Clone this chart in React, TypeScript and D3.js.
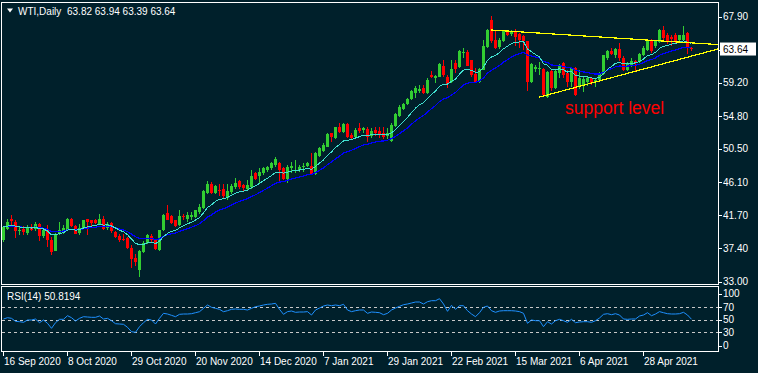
import { useEffect, useRef } from 'react'
import * as d3 from 'd3'

// WTI daily candles, one per bar
const opens = [
  38.42, 39.97, 41.2, 40.85, 39.74, 39.96, 39.39, 40.19, 39.97, 40.63,
  38.99, 39.96, 38.51, 37.01, 39.39, 39.48, 39.83, 41.29, 40.32, 39.39,
  40.1, 41.2, 41.07, 41.07, 40.63, 41.29, 40.05, 40.76, 39.52, 38.99,
  38.64, 38.73, 37.45, 36.13, 34.46, 36.88, 38.11, 38.95, 38.51, 37.1,
  39.74, 42.04, 41.6, 41.07, 40.41, 41.6, 41.29, 41.51, 41.51, 42.17,
  42.74, 44.68, 45.83, 44.72, 45.08, 45.16, 44.06, 44.81, 45.47, 46.27,
  45.69, 45.25, 45.47, 47.24, 46.88, 47.24, 47.68, 47.9, 48.34, 48.65,
  47.9, 46.57, 47.9, 47.59, 47.68, 48.03, 48.25, 48.2, 47.15, 49.53,
  50.23, 50.76, 52.52, 51.86, 53.32, 52.74, 53.76, 52.3, 52.08, 53.18,
  52.96, 53.09, 52.17, 52.96, 52.88, 52.61, 52.17, 51.55, 53.49, 54.81,
  55.69, 56.4, 57.02, 57.9, 58.16, 58.47, 57.81, 60.23, 59.79, 60.01,
  61.42, 60.01, 59.35, 61.86, 61.25, 63.1, 63.19, 62.13, 60.32, 59.35,
  60.89, 63.89, 67.5, 64.86, 63.89, 64.64, 65.96, 65.65, 65.96, 65.61,
  65.3, 64.64, 59.35, 61.03, 61.11, 61.03, 57.37, 60.76, 58.47, 60.45,
  61.78, 60.45, 59.35, 61.2, 58.69, 58.91, 59.35, 59.79, 59.35, 59.57,
  60.32, 62.44, 63.41, 62.88, 63.63, 62.52, 60.89, 61.55, 62.08, 61.91,
  62.88, 63.54, 64.86, 63.98, 64.55, 66.18, 65.43, 65.17, 65.43, 64.86,
  64.86, 65.74, 63.82,
]
const highs = [
  40.35, 41.29, 41.73, 41.07, 40.27, 40.27, 40.41, 40.63, 40.85, 40.71,
  40.1, 40.41, 38.86, 39.39, 40.85, 40.41, 41.42, 41.42, 40.41, 40.63,
  41.16, 41.29, 41.16, 41.29, 41.86, 41.6, 40.85, 40.85, 39.66, 39.3,
  39.3, 38.86, 37.76, 36.66, 37.1, 38.29, 39.3, 39.3, 38.64, 39.83,
  41.86, 43.05, 41.73, 41.16, 42.39, 41.95, 42.17, 42.17, 42.48, 43.27,
  45.12, 46.22, 46.13, 45.69, 45.83, 45.83, 45.83, 45.83, 46.7, 46.44,
  45.91, 46.44, 47.68, 47.46, 47.9, 48.12, 48.2, 48.78, 49.35, 48.78,
  48.12, 48.34, 48.78, 49.0, 48.34, 48.65, 48.69, 49.88, 50.1, 50.76,
  51.2, 52.52, 52.61, 53.41, 53.84, 53.84, 53.93, 52.52, 53.18, 53.84,
  53.4, 53.4, 53.18, 53.32, 53.32, 53.4, 53.18, 53.84, 55.25, 56.27,
  56.58, 57.15, 58.25, 58.78, 58.91, 58.91, 59.79, 60.76, 60.23, 61.78,
  62.22, 60.23, 62.22, 62.22, 63.54, 63.76, 63.54, 62.22, 61.12, 61.12,
  64.86, 66.27, 67.94, 65.96, 65.08, 66.09, 66.18, 66.09, 66.27, 65.74,
  65.43, 64.73, 61.78, 61.56, 61.99, 61.11, 60.76, 60.89, 60.89, 61.64,
  61.99, 60.89, 61.33, 61.33, 60.89, 60.01, 60.01, 60.01, 59.88, 60.59,
  62.88, 63.54, 63.76, 63.76, 64.42, 62.66, 61.99, 62.44, 62.22, 63.1,
  63.98, 64.99, 64.99, 64.86, 66.31, 66.62, 65.74, 65.52, 65.74, 65.52,
  66.62, 65.87, 63.94,
]
const lows = [
  38.2, 39.74, 40.41, 38.73, 39.08, 39.08, 39.08, 39.66, 39.66, 38.34,
  38.73, 37.54, 36.53, 36.97, 39.08, 39.22, 39.74, 40.19, 39.22, 39.08,
  40.05, 39.17, 40.19, 40.54, 40.41, 39.83, 39.74, 39.44, 38.77, 38.2,
  38.33, 37.32, 34.81, 34.99, 33.58, 36.75, 37.98, 38.2, 37.1, 37.01,
  39.66, 41.07, 40.63, 40.19, 40.27, 41.07, 40.85, 41.07, 41.42, 41.95,
  42.61, 44.5, 44.5, 44.59, 44.24, 44.06, 43.71, 44.59, 45.25, 45.25,
  44.94, 44.94, 45.25, 46.35, 45.91, 47.02, 47.46, 47.68, 48.12, 46.05,
  46.35, 46.0, 47.24, 47.32, 47.46, 47.46, 48.12, 47.02, 47.02, 49.35,
  50.1, 50.67, 51.42, 51.73, 52.61, 52.61, 51.86, 51.64, 51.95, 52.52,
  52.61, 51.42, 51.86, 52.17, 51.86, 51.73, 51.73, 51.42, 53.4, 54.73,
  55.61, 56.27, 56.93, 57.15, 57.9, 57.72, 57.72, 59.79, 59.22, 59.93,
  60.01, 58.47, 59.22, 60.54, 61.12, 62.43, 61.34, 60.01, 59.22, 59.22,
  60.81, 63.76, 64.42, 63.63, 63.63, 64.51, 65.3, 65.39, 63.98, 63.76,
  63.54, 58.12, 59.22, 60.67, 60.23, 57.37, 57.24, 58.12, 58.38, 59.79,
  59.88, 58.69, 58.69, 57.5, 58.38, 58.03, 58.82, 58.91, 58.69, 59.44,
  60.23, 62.22, 62.88, 62.44, 62.0, 60.76, 60.76, 61.33, 60.67, 61.78,
  62.66, 63.41, 63.1, 63.76, 64.42, 64.64, 64.29, 63.98, 64.42, 64.64,
  64.64, 62.96, 63.39,
]
const closes = [
  40.19, 40.85, 40.93, 39.66, 39.83, 39.52, 40.19, 39.83, 40.63, 38.99,
  39.83, 38.51, 36.88, 39.3, 39.83, 40.1, 41.29, 40.27, 39.3, 40.1,
  41.07, 40.85, 40.76, 40.76, 41.2, 39.96, 40.63, 39.66, 38.86, 38.51,
  38.51, 37.45, 36.0, 35.56, 36.97, 38.11, 39.08, 38.42, 37.23, 39.74,
  41.73, 41.16, 40.76, 40.32, 41.6, 41.55, 41.73, 41.82, 42.39, 42.83,
  44.94, 45.83, 44.72, 45.61, 44.99, 44.24, 44.9, 45.61, 46.0, 45.47,
  45.34, 45.69, 46.88, 46.57, 47.46, 47.9, 48.12, 48.56, 49.09, 47.68,
  46.57, 48.12, 48.2, 47.76, 48.12, 48.2, 48.56, 47.15, 49.88, 50.54,
  50.98, 52.43, 51.99, 53.32, 52.74, 53.76, 51.99, 51.95, 52.96, 52.88,
  53.18, 51.99, 52.88, 52.52, 52.43, 51.99, 52.52, 53.62, 55.08, 55.96,
  56.4, 57.02, 58.16, 58.47, 58.34, 57.81, 59.57, 60.01, 60.1, 61.69,
  60.23, 59.04, 60.98, 60.98, 63.32, 63.23, 61.42, 60.23, 59.35, 60.98,
  63.98, 66.18, 64.64, 63.76, 64.77, 65.96, 65.52, 65.96, 65.21, 64.86,
  64.73, 59.35, 61.64, 61.25, 61.2, 57.59, 60.67, 58.56, 60.76, 61.47,
  60.23, 59.35, 61.2, 57.59, 59.79, 59.66, 59.79, 59.22, 59.57, 60.45,
  62.79, 63.41, 62.96, 63.63, 62.44, 60.89, 61.78, 62.08, 61.91, 62.96,
  63.76, 64.86, 63.32, 64.64, 66.18, 65.08, 64.73, 64.99, 64.73, 65.43,
  65.52, 63.76, 63.64,
]

// RSI(14), one value per bar
const rsiValues = [
  51.2, 53.3, 52.3, 47.5, 46.9, 45.9, 49.6, 49.6, 51.2, 45.3,
  49.6, 44.3, 36.3, 45.3, 50.7, 50.7, 56.5, 53.3, 48.0, 52.3,
  54.9, 54.4, 53.9, 53.9, 56.0, 51.2, 52.3, 48.5, 43.7, 43.2,
  42.7, 37.9, 30.9, 29.9, 38.9, 45.3, 50.7, 49.6, 43.2, 52.3,
  60.3, 59.2, 57.1, 54.9, 58.7, 59.2, 59.2, 59.7, 61.3, 62.9,
  68.3, 73.6, 69.9, 68.3, 66.7, 62.9, 64.5, 66.7, 67.2, 66.7,
  66.7, 65.6, 68.3, 70.9, 72.0,
  73.6, 74.7, 75.2, 76.3, 66.7, 58.7, 63.0, 64.0, 61.9, 62.4,
  62.4, 63.0, 57.6, 65.6, 68.8, 72.0, 73.6, 72.5, 73.6, 72.5,
  74.7, 65.6, 63.0, 64.5, 65.6, 65.6, 60.3, 62.4, 61.9, 61.3,
  58.1, 60.3, 65.6, 68.8, 71.5, 74.1, 75.2, 76.8, 78.4, 78.4,
  75.2, 78.9, 80.5, 80.5, 83.7, 75.2, 63.5, 73.1, 66.7, 72.5,
  72.5, 64.5, 59.2, 54.9, 61.3, 69.9, 72.0, 64.5, 61.9, 64.0,
  64.5, 64.5, 64.5, 64.0, 63.0, 60.3, 44.3, 49.6, 48.5, 48.5,
  38.9, 46.9, 43.2, 48.5, 50.7, 48.5, 45.9, 50.7, 45.3, 46.4,
  46.9, 46.9, 45.9, 48.5, 52.8, 58.7, 59.7, 58.1, 59.7, 57.6,
  51.2, 50.7, 51.2, 51.2, 56.0, 57.6, 61.3, 56.5, 59.2, 63.0,
  61.3, 59.7, 59.2, 59.2, 59.7, 61.9, 57.6, 50.8,
]

const dateLabels = [
  '16 Sep 2020', '8 Oct 2020', '29 Oct 2020', '20 Nov 2020', '14 Dec 2020', '7 Jan 2021',
  '29 Jan 2021', '22 Feb 2021', '15 Mar 2021', '6 Apr 2021', '28 Apr 2021',
]
const dateLabelBars = [0, 16, 32, 48, 64, 80, 96, 112, 128, 144, 160]

const priceTicks = [67.9, 63.5, 59.2, 54.8, 50.5, 46.1, 41.7, 37.4, 33.0]
const rsiLevels = [70, 50, 30]
const rsiTicks = [100, 70, 50, 30, 0]

// trendlines as [bar, price]
const upperTrend: [number, number][] = [[122, 66.15], [179.5, 64.2]]
const lowerTrend: [number, number][] = [[134, 57.29], [179.5, 63.75]]
const supportNote = { bar: 140.5, price: 55.1, text: 'support level' }

const symbol = 'WTI,Daily'
const lastQuote = '63.82 63.94 63.39 63.64'
const rsiTitle = 'RSI(14) 50.8194'

const ema = (vals: number[], period: number) => {
  const k = 2 / (period + 1)
  let prev = vals[0]
  return vals.map((v, i) => {
    if (i > 0) prev = prev + k * (v - prev)
    return prev
  })
}

const App = () => {
  const svgRef = useRef<SVGSVGElement | null>(null)

  useEffect(() => {
    const svg = d3.select(svgRef.current)
    svg.selectAll('*').remove()

    const W = 758
    const H = 373
    const bg = '#00202b'
    const fg = '#ffffff'
    const font = '"Liberation Sans", Arial, sans-serif'
    const plotRight = 718

    svg.append('rect').attr('width', W).attr('height', H).attr('fill', bg)

    const x = d3.scaleLinear().domain([0, 172]).range([3, 691])
    const y = d3.scaleLinear().domain([33.0, 67.9]).range([281.5, 16.7])
    const ry = d3.scaleLinear().domain([0, 100]).range([351, 288.5])

    const defs = svg.append('defs')
    defs
      .append('clipPath')
      .attr('id', 'main-clip')
      .append('rect')
      .attr('x', 2)
      .attr('y', 3)
      .attr('width', plotRight - 2)
      .attr('height', 281)
    defs
      .append('clipPath')
      .attr('id', 'rsi-clip')
      .append('rect')
      .attr('x', 2)
      .attr('y', 287)
      .attr('width', plotRight - 2)
      .attr('height', 64)

    const main = svg.append('g').attr('clip-path', 'url(#main-clip)')

    // candles
    const idx = d3.range(closes.length)
    const candle = main
      .selectAll('g.candle')
      .data(idx)
      .join('g')
      .attr('shape-rendering', 'crispEdges')
    candle
      .append('line')
      .attr('x1', (i) => x(i) + 0.5)
      .attr('x2', (i) => x(i) + 0.5)
      .attr('y1', (i) => y(highs[i]))
      .attr('y2', (i) => y(lows[i]))
      .attr('stroke', (i) => (closes[i] >= opens[i] ? '#32cd32' : '#ff0000'))
      .attr('stroke-width', 1)
    candle
      .append('rect')
      .attr('x', (i) => x(i) - 1)
      .attr('width', 3)
      .attr('y', (i) => Math.min(y(opens[i]), y(closes[i])))
      .attr('height', (i) => Math.max(1, Math.abs(y(opens[i]) - y(closes[i]))))
      .attr('fill', (i) => (closes[i] >= opens[i] ? '#32cd32' : '#ff0000'))

    // moving averages, drawn aliased like the terminal does
    const fast = ema(closes, 10)
    const slow = ema(closes, 20)
    const maLine = d3
      .line<number>()
      .x((_, i) => x(i) + 0.5)
      .y((d) => y(d))
    main
      .append('path')
      .datum(slow)
      .attr('fill', 'none')
      .attr('stroke', '#0000ff')
      .attr('stroke-width', 1.2)
      .attr('shape-rendering', 'crispEdges')
      .attr('d', maLine)
    main
      .append('path')
      .datum(fast)
      .attr('fill', 'none')
      .attr('stroke', '#40e0d0')
      .attr('stroke-width', 1)
      .attr('shape-rendering', 'crispEdges')
      .attr('d', maLine)

    // trendlines
    const trendLine = d3
      .line<[number, number]>()
      .x((d) => x(d[0]))
      .y((d) => y(d[1]))
    ;[upperTrend, lowerTrend].forEach((t) => {
      main
        .append('path')
        .datum(t)
        .attr('fill', 'none')
        .attr('stroke', '#ffff00')
        .attr('stroke-width', 1.2)
        .attr('shape-rendering', 'crispEdges')
        .attr('d', trendLine)
    })

    main
      .append('text')
      .attr('x', x(supportNote.bar))
      .attr('y', y(supportNote.price))
      .attr('fill', '#ff0000')
      .attr('font-family', font)
      .attr('font-size', 17.5)
      .text(supportNote.text)

    // panel borders
    const borders = svg.append('g').attr('fill', 'none').attr('stroke', fg).attr('shape-rendering', 'crispEdges')
    borders.append('rect').attr('x', 1.5).attr('y', 2.5).attr('width', plotRight - 1).attr('height', 282)
    borders.append('rect').attr('x', 1.5).attr('y', 286.5).attr('width', plotRight - 1).attr('height', 65)

    // price axis
    const pAxis = svg.append('g').attr('font-family', font).attr('font-size', 10).attr('fill', fg)
    priceTicks.forEach((p) => {
      pAxis
        .append('line')
        .attr('x1', plotRight + 0.5)
        .attr('x2', plotRight + 4)
        .attr('y1', Math.round(y(p)) + 0.5)
        .attr('y2', Math.round(y(p)) + 0.5)
        .attr('stroke', fg)
      pAxis
        .append('text')
        .attr('x', 723)
        .attr('y', y(p) + 3.6)
        .text(p.toFixed(2))
    })

    // current price marker
    const last = closes[closes.length - 1]
    const ly = y(last)
    svg
      .append('rect')
      .attr('x', 720)
      .attr('y', ly - 6.5)
      .attr('width', 36)
      .attr('height', 13)
      .attr('fill', '#ffffff')
    svg
      .append('text')
      .attr('x', 723)
      .attr('y', ly + 3.6)
      .attr('font-family', font)
      .attr('font-size', 10)
      .attr('fill', '#000000')
      .text(last.toFixed(2))

    // RSI panel
    const rsiG = svg.append('g').attr('clip-path', 'url(#rsi-clip)')
    rsiLevels.forEach((lv) => {
      rsiG
        .append('line')
        .attr('x1', 2)
        .attr('x2', plotRight)
        .attr('y1', Math.round(ry(lv)) + 0.5)
        .attr('y2', Math.round(ry(lv)) + 0.5)
        .attr('stroke', '#c8c8c8')
        .attr('stroke-dasharray', '3,3')
    })
    rsiG
      .append('path')
      .datum(rsiValues)
      .attr('fill', 'none')
      .attr('stroke', '#1e90ff')
      .attr('stroke-width', 1)
      .attr(
        'd',
        d3
          .line<number>()
          .x((_, i) => x(i) + 0.5)
          .y((d) => ry(d))
      )

    const rAxis = svg.append('g').attr('font-family', font).attr('font-size', 10).attr('fill', fg)
    rsiTicks.forEach((v) => {
      const ty = Math.min(345.5, Math.max(293.5, ry(v)))
      rAxis
        .append('line')
        .attr('x1', plotRight + 0.5)
        .attr('x2', plotRight + 4)
        .attr('y1', Math.round(ty) + 0.5)
        .attr('y2', Math.round(ty) + 0.5)
        .attr('stroke', fg)
      rAxis
        .append('text')
        .attr('x', 723)
        .attr('y', ty + 3.6)
        .text(String(v))
    })

    // time axis
    const tAxis = svg.append('g').attr('font-family', font).attr('font-size', 10).attr('fill', fg)
    dateLabelBars.forEach((b, k) => {
      tAxis
        .append('line')
        .attr('x1', x(b) + 0.5)
        .attr('x2', x(b) + 0.5)
        .attr('y1', 352)
        .attr('y2', 356)
        .attr('stroke', fg)
      tAxis
        .append('text')
        .attr('x', x(b) + 1)
        .attr('y', 365)
        .text(dateLabels[k])
    })

    // titles
    svg.append('path').attr('d', 'M7,8.5 L13,8.5 L10,12.5 Z').attr('fill', fg)
    const title = svg.append('g').attr('font-family', font).attr('font-size', 10).attr('fill', fg)
    title.append('text').attr('x', 18).attr('y', 14.5).text(symbol)
    title.append('text').attr('x', 67).attr('y', 14.5).text(lastQuote)
    title.append('text').attr('x', 7).attr('y', 299.5).text(rsiTitle)
  }, [])

  return (
    <svg
      ref={svgRef}
      width={758}
      height={373}
      style={{ position: 'fixed', left: 0, top: 0, display: 'block' }}
    />
  )
}

export default App
